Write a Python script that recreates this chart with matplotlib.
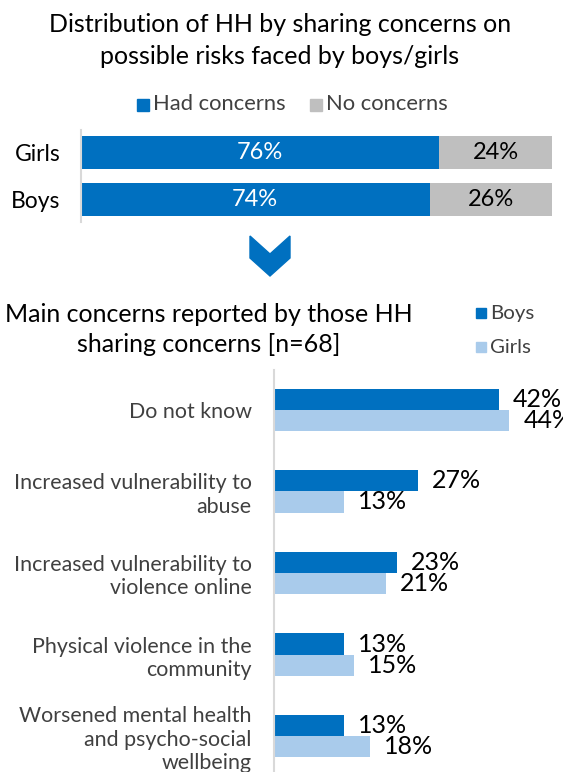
import matplotlib
matplotlib.use("Agg")
import matplotlib.pyplot as plt
from matplotlib.patches import Rectangle, Polygon

plt.rcParams['font.family'] = ['Lato', 'DejaVu Sans']

# ---- data ----
top_groups = ["Girls", "Boys"]
had_concerns = [76, 74]
no_concerns = [24, 26]
top_series = ["Had concerns", "No concerns"]

concern_cats = ["Do not know",
                "Increased vulnerability to\nabuse",
                "Increased vulnerability to\nviolence online",
                "Physical violence in the\ncommunity",
                "Worsened mental health\nand psycho-social\nwellbeing"]
boys_vals = [42, 27, 23, 13, 13]
girls_vals = [44, 13, 21, 15, 18]
bottom_series = ["Boys", "Girls"]

DARK = "#0070C0"
LIGHT = "#A9CBEB"
GRAY = "#BFBFBF"

W, H = 563, 772
fig = plt.figure(figsize=(W / 100, H / 100), dpi=100)

def fx(px):
    return px / W

def fy(py):
    return 1 - py / H

# ---- top chart ----
fig.text(fx(280), fy(25), "Distribution of HH by sharing concerns on", ha="center", va="center", fontsize=18, color="black")
fig.text(fx(280), fy(57), "possible risks faced by boys/girls", ha="center", va="center", fontsize=18, color="black")

# legend top
for (xsq, lab, col) in [(137, top_series[0], DARK), (310, top_series[1], GRAY)]:
    fig.patches.append(Rectangle((fx(xsq), fy(111)), fx(12), 12 / H, transform=fig.transFigure, color=col))
    fig.text(fx(xsq + 16), fy(104), lab, ha="left", va="center", fontsize=15.8, color="#404040")

ax1 = fig.add_axes([fx(81), fy(222), fx(552 - 81), (222 - 130) / H])
ypos = list(range(len(top_groups)))
ax1.barh(ypos, had_concerns, height=0.70, color=DARK)
ax1.barh(ypos, no_concerns, left=had_concerns, height=0.70, color=GRAY)
for i in ypos:
    ax1.text(had_concerns[i] / 2, i, f"{had_concerns[i]}%", ha="center", va="center", color="white", fontsize=17)
    ax1.text(had_concerns[i] + no_concerns[i] / 2, i, f"{no_concerns[i]}%", ha="center", va="center", color="black", fontsize=17)
ax1.set_xlim(0, 100)
ax1.set_ylim(1.479, -0.479)
ax1.set_yticks(ypos)
ax1.set_yticklabels(top_groups, fontsize=16.5)
ax1.tick_params(axis="y", length=0, pad=15)
ax1.set_xticks([])
for s in ["top", "right", "bottom"]:
    ax1.spines[s].set_visible(False)
ax1.spines["left"].set_color("#D9D9D9")
ax1.spines["left"].set_linewidth(1.5)

# chevron
chev = [(250, 236), (270, 254), (290, 236), (290, 258), (270, 276), (250, 258)]
fig.patches.append(Polygon([(fx(x), fy(y)) for x, y in chev], closed=True, transform=fig.transFigure, color=DARK))

# ---- bottom chart ----
fig.text(fx(209), fy(315), "Main concerns reported by those HH", ha="center", va="center", fontsize=18, color="black")
fig.text(fx(209), fy(344), "sharing concerns [n=68]", ha="center", va="center", fontsize=18, color="black")

for (ysq, lab, col) in [(313, bottom_series[0], DARK), (347, bottom_series[1], LIGHT)]:
    fig.patches.append(Rectangle((fx(476), fy(ysq + 5)), fx(10), 10 / H, transform=fig.transFigure, color=col))
    fig.text(fx(490), fy(ysq), lab, ha="left", va="center", fontsize=14.7, color="#404040")

ax2 = fig.add_axes([fx(274), fy(776), fx(W - 274), (776 - 370) / H])
pos = list(range(len(concern_cats)))
bh = 0.258
ax2.barh([p - bh / 2 for p in pos], boys_vals, height=bh, color=DARK)
ax2.barh([p + bh / 2 for p in pos], girls_vals, height=bh, color=LIGHT)
for i in pos:
    ax2.text(boys_vals[i] + 2.6, i - bh / 2, f"{boys_vals[i]}%", ha="left", va="center", fontsize=18, color="black")
    ax2.text(girls_vals[i] + 2.6, i + bh / 2, f"{girls_vals[i]}%", ha="left", va="center", fontsize=18, color="black")
ax2.set_xlim(0, (W - 274) / 5.35)
ax2.set_ylim(4.49, -0.49)
ax2.set_yticks(pos)
ax2.set_yticklabels(concern_cats, fontsize=15.4, color="#404040", linespacing=1.2)
ax2.tick_params(axis="y", length=0, pad=16)
ax2.set_xticks([])
for s in ["top", "right", "bottom"]:
    ax2.spines[s].set_visible(False)
ax2.spines["left"].set_color("#D9D9D9")
ax2.spines["left"].set_linewidth(1.5)

fig.savefig("out.png", dpi=100)
